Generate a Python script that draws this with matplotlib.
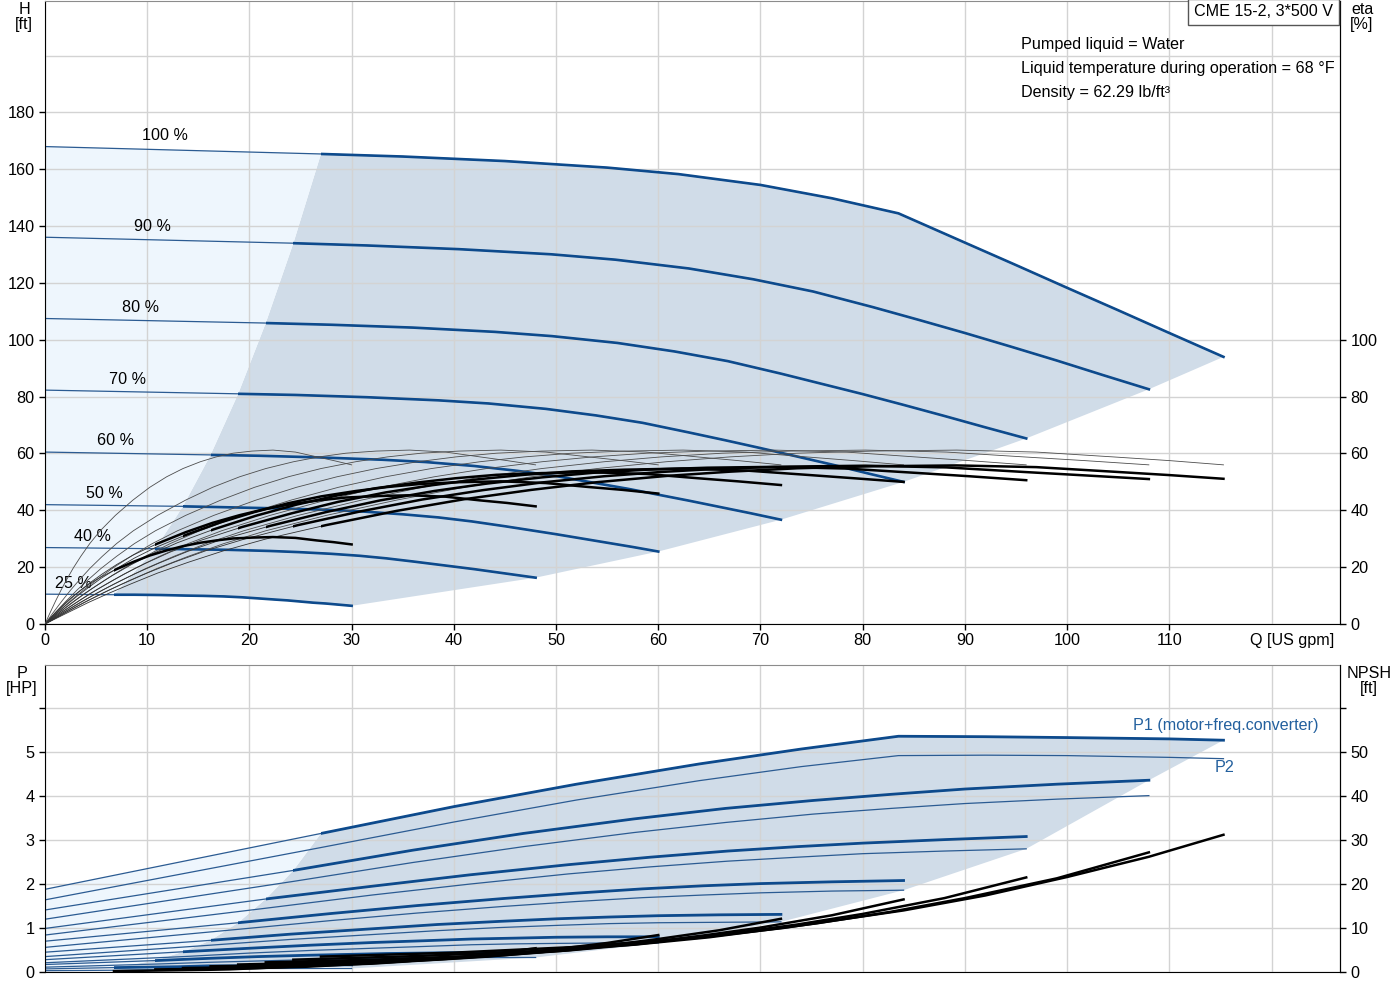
import matplotlib
matplotlib.use('Agg')
import matplotlib.pyplot as plt
from matplotlib.patches import Rectangle

plt.rcParams['font.family'] = ['Liberation Sans', 'DejaVu Sans']
plt.rcParams['font.size'] = 11.6

# ---- data ----
speed_labels = ['100 %', '90 %', '80 %', '70 %', '60 %', '50 %', '40 %', '25 %']
q_min = [27.0, 24.3, 21.6, 18.9, 16.2, 13.5, 10.8, 6.75]     # US gpm, start of operating range
q_max = [115.3, 108.0, 96.0, 84.0, 72.0, 60.0, 48.0, 30.0]

# head curves H [ft]
head_q = [
    [0, 27, 35, 45, 55, 62, 70, 77, 83.5, 90, 95, 100, 105, 110, 115.3],
    [0, 24.3, 31.5, 40.5, 49.5, 55.8, 63, 69.3, 75.15, 81, 85.5, 90, 94.5, 99, 103.5, 108],
    [0, 21.6, 28, 36, 44, 49.6, 56, 61.6, 66.8, 72, 76, 80, 84, 88, 92, 96],
    [0, 18.9, 24.5, 31.5, 38.5, 43.4, 49, 53.9, 58.45, 63, 66.5, 70, 73.5, 77, 80.5, 84],
    [0, 16.2, 21, 27, 33, 37.2, 42, 46.2, 50.1, 54, 57, 60, 63, 66, 69, 72],
    [0, 13.5, 17.5, 22.5, 27.5, 31, 35, 38.5, 41.75, 45, 47.5, 50, 52.5, 55, 57.5, 60],
    [0, 10.8, 14, 18, 22, 24.8, 28, 30.8, 33.4, 36, 38, 40, 42, 44, 46, 48],
    [0, 6.75, 8.75, 11.25, 13.75, 15.5, 17.5, 19.25, 20.9, 22.5, 23.75, 25, 26.25, 27.5, 28.75, 30],
]
head_ft = [
    [168, 165.4, 164.5, 162.9, 160.6, 158.3, 154.5, 149.8, 144.5, 134.2, 126.3, 118.3, 110.4, 102.4, 94.0],
    [136.1, 134.0, 133.2, 131.9, 130.1, 128.2, 125.1, 121.3, 117.0, 111.5, 107.0, 102.4, 97.6, 92.7, 87.6, 82.6],
    [107.5, 105.9, 105.3, 104.3, 102.8, 101.3, 98.9, 95.9, 92.5, 88.1, 84.5, 80.9, 77.1, 73.2, 69.2, 65.3],
    [82.3, 81.0, 80.6, 79.8, 78.7, 77.6, 75.7, 73.4, 70.8, 67.4, 64.7, 61.9, 59.0, 56.1, 53.0, 50.0],
    [60.5, 59.5, 59.2, 58.6, 57.8, 57.0, 55.6, 53.9, 52.0, 49.5, 47.6, 45.5, 43.4, 41.2, 39.0, 36.7],
    [42.0, 41.4, 41.1, 40.7, 40.2, 39.6, 38.6, 37.5, 36.1, 34.4, 33.0, 31.6, 30.1, 28.6, 27.1, 25.5],
    [26.9, 26.5, 26.3, 26.1, 25.7, 25.3, 24.7, 24.0, 23.1, 22.0, 21.1, 20.2, 19.3, 18.3, 17.3, 16.3],
    [10.5, 10.3, 10.3, 10.2, 10.0, 9.9, 9.7, 9.4, 9.0, 8.6, 8.3, 7.9, 7.5, 7.2, 6.8, 6.4],
]

# efficiency curves eta [%]
eta_q = [
    [0, 2, 4.2, 6.3, 8.4, 11, 14, 17.5, 21.6, 27.5, 34.4, 41, 47.6, 54, 60.8, 67, 73.6, 81, 89.2, 97, 104.5, 110, 115.3],
    [0, 1.8, 3.78, 5.67, 7.56, 9.9, 12.6, 15.75, 19.44, 24.75, 30.96, 36.9, 42.84, 48.6, 54.72, 60.3, 66.24, 72.9, 80.28, 88.2, 95.76, 101.7, 108],
    [0, 1.6, 3.36, 5.04, 6.72, 8.8, 11.2, 14, 17.28, 22, 27.52, 32.8, 38.08, 43.2, 48.64, 53.6, 58.88, 64.8, 71.36, 78.4, 85.12, 90.4, 96],
    [0, 1.4, 2.94, 4.41, 5.88, 7.7, 9.8, 12.25, 15.12, 19.25, 24.08, 28.7, 33.32, 37.8, 42.56, 46.9, 51.52, 56.7, 62.44, 68.6, 74.48, 79.1, 84],
    [0, 1.2, 2.52, 3.78, 5.04, 6.6, 8.4, 10.5, 12.96, 16.5, 20.64, 24.6, 28.56, 32.4, 36.48, 40.2, 44.16, 48.6, 53.52, 58.8, 63.84, 67.8, 72],
    [0, 1.0, 2.1, 3.15, 4.2, 5.5, 7.0, 8.75, 10.8, 13.75, 17.2, 20.5, 23.8, 27.0, 30.4, 33.5, 36.8, 40.5, 44.6, 49.0, 53.2, 56.5, 60],
    [0, 0.8, 1.68, 2.52, 3.36, 4.4, 5.6, 7.0, 8.64, 11.0, 13.76, 16.4, 19.04, 21.6, 24.32, 26.8, 29.44, 32.4, 35.68, 39.2, 42.56, 45.2, 48],
    [0, 0.5, 1.05, 1.58, 2.1, 2.75, 3.5, 4.38, 5.4, 6.88, 8.6, 10.25, 11.9, 13.5, 15.2, 16.75, 18.4, 20.25, 22.3, 24.5, 26.6, 28.25, 30],
]
eta_pump = [0, 4.0, 8.2, 12.0, 15.5, 19.6, 23.8, 28.3, 32.8, 38.2, 43.6, 48.1, 51.8, 54.7,
            57.1, 58.8, 60.1, 60.85, 61.2, 60.5, 58.8, 57.5, 56.0]
eta_total = [
    [0, 3.6, 7.5, 10.9, 14.1, 17.9, 21.7, 25.8, 29.9, 34.8, 39.8, 43.9, 47.2, 49.9, 52.1, 53.6, 54.8, 55.5, 55.8, 55.2, 53.6, 52.4, 51.1],
    [0, 3.6, 7.5, 10.9, 14.1, 17.8, 21.7, 25.8, 29.8, 34.8, 39.7, 43.8, 47.1, 49.8, 52.0, 53.5, 54.7, 55.4, 55.7, 55.1, 53.5, 52.3, 51.0],
    [0, 3.6, 7.4, 10.8, 14.0, 17.7, 21.5, 25.6, 29.7, 34.5, 39.4, 43.5, 46.8, 49.4, 51.6, 53.2, 54.3, 55.0, 55.3, 54.7, 53.2, 52.0, 50.6],
    [0, 3.6, 7.3, 10.7, 13.8, 17.5, 21.3, 25.3, 29.3, 34.1, 38.9, 43.0, 46.3, 48.8, 51.0, 52.5, 53.7, 54.3, 54.7, 54.0, 52.5, 51.3, 50.0],
    [0, 3.5, 7.2, 10.5, 13.5, 17.1, 20.8, 24.7, 28.6, 33.3, 38.1, 42.0, 45.2, 47.8, 49.8, 51.3, 52.5, 53.1, 53.4, 52.8, 51.3, 50.2, 48.9],
    [0, 3.3, 6.7, 9.8, 12.7, 16.1, 19.5, 23.2, 26.9, 31.3, 35.8, 39.4, 42.5, 44.9, 46.8, 48.2, 49.3, 49.9, 50.2, 49.6, 48.2, 47.2, 45.9],
    [0, 3.0, 6.1, 8.9, 11.5, 14.5, 17.6, 20.9, 24.3, 28.3, 32.3, 35.6, 38.3, 40.5, 42.3, 43.5, 44.5, 45.0, 45.3, 44.8, 43.5, 42.6, 41.4],
    [0, 2.0, 4.1, 6.0, 7.8, 9.8, 11.9, 14.2, 16.4, 19.1, 21.8, 24.1, 25.9, 27.4, 28.6, 29.4, 30.1, 30.4, 30.6, 30.3, 29.4, 28.8, 28.0],
]

# power curves P [HP]
power_q = [
    [0, 27, 40, 52, 64, 74, 83.5, 92, 100, 110, 115.3],
    [0, 24.3, 36, 46.8, 57.6, 66.6, 75.15, 82.8, 90, 99, 108],
    [0, 21.6, 32, 41.6, 51.2, 59.2, 66.8, 73.6, 80, 88, 96],
    [0, 18.9, 28, 36.4, 44.8, 51.8, 58.45, 64.4, 70, 77, 84],
    [0, 16.2, 24, 31.2, 38.4, 44.4, 50.1, 55.2, 60, 66, 72],
    [0, 13.5, 20, 26, 32, 37, 41.75, 46, 50, 55, 60],
    [0, 10.8, 16, 20.8, 25.6, 29.6, 33.4, 36.8, 40, 44, 48],
    [0, 6.75, 10, 13, 16, 18.5, 20.9, 23, 25, 27.5, 30],
]
p1_hp = [
    [1.88, 3.15, 3.76, 4.27, 4.73, 5.07, 5.36, 5.35, 5.33, 5.30, 5.27],
    [1.41, 2.31, 2.77, 3.15, 3.48, 3.72, 3.90, 4.04, 4.16, 4.27, 4.36],
    [0.99, 1.66, 1.95, 2.21, 2.44, 2.61, 2.75, 2.85, 2.93, 3.01, 3.08],
    [0.70, 1.12, 1.33, 1.51, 1.67, 1.79, 1.89, 1.96, 2.01, 2.05, 2.08],
    [0.45, 0.72, 0.86, 0.97, 1.08, 1.15, 1.21, 1.25, 1.28, 1.30, 1.31],
    [0.28, 0.46, 0.54, 0.61, 0.67, 0.71, 0.75, 0.77, 0.79, 0.80, 0.80],
    [0.17, 0.26, 0.31, 0.35, 0.38, 0.40, 0.42, 0.43, 0.44, 0.45, 0.45],
    [0.07, 0.10, 0.11, 0.12, 0.14, 0.14, 0.15, 0.16, 0.16, 0.16, 0.16],
]
p2_hp = [
    [1.64, 2.83, 3.41, 3.91, 4.35, 4.67, 4.92, 4.93, 4.92, 4.88, 4.85],
    [1.20, 2.06, 2.49, 2.85, 3.17, 3.40, 3.59, 3.72, 3.83, 3.93, 4.01],
    [0.84, 1.45, 1.75, 2.00, 2.23, 2.39, 2.52, 2.61, 2.69, 2.75, 2.80],
    [0.56, 0.97, 1.17, 1.34, 1.49, 1.60, 1.69, 1.75, 1.80, 1.84, 1.86],
    [0.35, 0.61, 0.74, 0.84, 0.94, 1.01, 1.06, 1.10, 1.12, 1.13, 1.14],
    [0.21, 0.35, 0.43, 0.49, 0.54, 0.58, 0.62, 0.64, 0.65, 0.66, 0.66],
    [0.11, 0.18, 0.22, 0.25, 0.28, 0.30, 0.32, 0.33, 0.33, 0.33, 0.33],
    [0.03, 0.04, 0.05, 0.06, 0.07, 0.07, 0.08, 0.08, 0.08, 0.08, 0.08],
]
# lower edge of the power operating area
p_edge_q = [115.3, 108, 96, 84, 72, 60, 48, 30]
p_edge_hp = [5.27, 4.36, 2.80, 1.86, 1.14, 0.66, 0.33, 0.08]

# NPSH curves [ft]
npsh_q = [
    [27, 40, 52, 64, 72.2, 84, 92, 100, 108, 115.3],
    [24.3, 36, 46.8, 57.6, 65, 75.6, 82.8, 90, 99, 108],
    [21.6, 32, 41.6, 51.2, 57.8, 67.2, 73.6, 80, 88, 96],
    [18.9, 28, 36.4, 44.8, 50.5, 58.8, 64.4, 70, 77, 84],
    [16.2, 24, 31.2, 38.4, 43.3, 50.4, 55.2, 60, 66, 72],
    [13.5, 20, 26, 32, 36.1, 42, 46, 50, 55, 60],
    [10.8, 16, 20.8, 25.6, 28.9, 33.6, 36.8, 40, 44, 48],
    [6.75, 10, 13, 16, 18, 21, 23, 25, 27.5, 30],
]
npsh_ft = [
    [3.5, 4.4, 5.7, 7.8, 10.0, 14.0, 17.4, 21.6, 26.2, 31.2],
    [2.8, 3.6, 4.6, 6.2, 7.9, 11.1, 13.7, 16.8, 21.3, 27.2],
    [2.2, 2.8, 3.6, 4.9, 6.3, 8.8, 10.8, 13.2, 16.8, 21.5],
    [1.7, 2.2, 2.8, 3.8, 4.8, 6.7, 8.3, 10.1, 12.9, 16.5],
    [1.3, 1.6, 2.1, 2.8, 3.5, 4.9, 6.1, 7.5, 9.5, 12.1],
    [0.9, 1.1, 1.4, 1.9, 2.5, 3.4, 4.2, 5.2, 6.6, 8.4],
    [0.6, 0.7, 0.9, 1.2, 1.6, 2.2, 2.7, 3.3, 4.2, 5.4],
    [0.2, 0.3, 0.4, 0.5, 0.6, 0.9, 1.1, 1.3, 1.6, 2.1],
]

# label x positions for the speed texts (layout only)
label_q = [11.7, 10.5, 9.3, 8.1, 6.9, 5.8, 4.6, 2.8]

BLUE = '#0d4a8c'
THIN_BLUE = '#2b5b92'
DARK_FILL = '#d0dce8'
LIGHT_FILL = '#eef6fd'
GRID = '#d3d3d3'


def thick_part(ax, q, v, qa, qb, **kw):
    line, = ax.plot(q, v, **kw)
    clip = Rectangle((qa, -1000), qb - qa + 2, 3000, transform=ax.transData)
    line.set_clip_path(clip)
    return line


def style_axes(ax):
    ax.set_axisbelow(True)
    ax.grid(True, color=GRID, lw=1)
    ax.spines['top'].set_color('#8c8c8c')
    for s in ['left', 'bottom', 'right']:
        ax.spines[s].set_color('black')
    ax.tick_params(direction='out', length=4, width=1, colors='black', labelsize=11.7)


def style_twin(ax):
    ax.tick_params(direction='out', length=4, width=1, colors='black', labelsize=11.7, pad=3.5)
    for s in ['left', 'bottom', 'top']:
        ax.spines[s].set_visible(False)
    ax.spines['right'].set_color('black')


fig = plt.figure(figsize=(14, 10), dpi=100)
ax_h = fig.add_axes([45 / 1400, 0.376, 1295 / 1400, 0.6235])
ax_p = fig.add_axes([45 / 1400, 0.028, 1295 / 1400, 0.307])

# ---------------- top panel: head and efficiency ----------------
style_axes(ax_h)
ax_h.set_xlim(0, 126.7)
ax_h.set_ylim(0, 219.4)
ax_h.set_xticks(range(0, 111, 10))
ax_h.set_yticks(range(0, 181, 20))
ax_h.axhline(200, color=GRID, lw=1, zorder=0.5)
ax_h.axvline(120, color=GRID, lw=1, zorder=0.5)
ax_h.tick_params(axis='x', pad=2.5)
ax_h.tick_params(axis='y', pad=3.5)

# operating areas
top_pts = [(q, h) for q, h in zip(head_q[0], head_ft[0]) if q >= q_min[0]]
edge_pts = [(hq[-1], hh[-1]) for hq, hh in zip(head_q[1:], head_ft[1:])]
low_pts = [(q, h) for q, h in zip(head_q[-1], head_ft[-1]) if q >= q_min[-1]][::-1]
left_pts = [(q_min[k], head_ft[k][1]) for k in range(len(q_min) - 2, 0, -1)]
dark = top_pts + edge_pts + low_pts + left_pts
ax_h.fill([p[0] for p in dark], [p[1] for p in dark], color=DARK_FILL, lw=0, zorder=0.3)

light = ([(q, h) for q, h in zip(head_q[0], head_ft[0]) if q <= q_min[0]]
         + [(q_min[k], head_ft[k][1]) for k in range(1, len(q_min))]
         + [(q, h) for q, h in zip(head_q[-1], head_ft[-1]) if q <= q_min[-1]][::-1])
ax_h.fill([p[0] for p in light], [p[1] for p in light], color=LIGHT_FILL, lw=0, zorder=0.3)

for k in range(len(speed_labels)):
    ax_h.plot(head_q[k], head_ft[k], color=THIN_BLUE, lw=0.9, zorder=2)
    thick_part(ax_h, head_q[k], head_ft[k], q_min[k], q_max[k], color=BLUE, lw=1.9, zorder=2.1)
    ax_h.annotate(speed_labels[k], xy=(label_q[k], head_ft[k][0]), xytext=(0, 8),
                  textcoords='offset points', ha='center', va='center')

ax_eta = ax_h.twinx()
ax_eta.set_ylim(ax_h.get_ylim())
ax_eta.set_yticks(range(0, 101, 20))
style_twin(ax_eta)

for k in range(len(speed_labels)):
    ax_eta.plot(eta_q[k], eta_pump, color='#4d4d4d', lw=0.6, zorder=2)
    ax_eta.plot(eta_q[k], eta_total[k], color='#333333', lw=0.6, zorder=2)
    thick_part(ax_eta, eta_q[k], eta_total[k], q_min[k], q_max[k], color='black', lw=1.8, zorder=2.2)

ax_h.annotate('Q [US gpm]', xy=(122, 0), xycoords=('data', 'axes fraction'),
              xytext=(0, -6.5), textcoords='offset points', ha='center', va='top')

# ---------------- bottom panel: power and NPSH ----------------
style_axes(ax_p)
ax_p.set_xlim(0, 126.7)
ax_p.set_ylim(0, 6.98)
ax_p.set_xticks(range(0, 121, 10))
ax_p.tick_params(axis='x', length=0, labelbottom=False)
ax_p.set_yticks(range(0, 7))
ax_p.set_yticklabels([str(v) for v in range(0, 6)] + [''])
ax_p.tick_params(axis='y', pad=3.5)

ptop = [(q, p) for q, p in zip(power_q[0], p1_hp[0]) if q >= q_min[0]]
pedge = list(zip(p_edge_q[1:], p_edge_hp[1:]))
plow = [(q, p) for q, p in zip(power_q[-1], p1_hp[-1]) if q >= q_min[-1]][::-1]
pleft = [(q_min[k], p1_hp[k][1]) for k in range(len(q_min) - 2, 0, -1)]
pdark = ptop + pedge + plow + pleft
ax_p.fill([p[0] for p in pdark], [p[1] for p in pdark], color=DARK_FILL, lw=0, zorder=0.3)

plight = ([(q, p) for q, p in zip(power_q[0], p1_hp[0]) if q <= q_min[0]]
          + [(q_min[k], p1_hp[k][1]) for k in range(1, len(q_min))]
          + [(q, p) for q, p in zip(power_q[-1], p1_hp[-1]) if q <= q_min[-1]][::-1])
ax_p.fill([p[0] for p in plight], [p[1] for p in plight], color=LIGHT_FILL, lw=0, zorder=0.3)

for k in range(len(speed_labels)):
    ax_p.plot(power_q[k], p2_hp[k], color=THIN_BLUE, lw=0.9, zorder=2)
    ax_p.plot(power_q[k], p1_hp[k], color=THIN_BLUE, lw=0.9, zorder=2)
    thick_part(ax_p, power_q[k], p1_hp[k], q_min[k], q_max[k], color=BLUE, lw=2.0, zorder=2.1)

ax_npsh = ax_p.twinx()
ax_npsh.set_ylim(0, 69.8)
ax_npsh.set_yticks(range(0, 61, 10))
ax_npsh.set_yticklabels([str(v) for v in range(0, 51, 10)] + [''])
style_twin(ax_npsh)

for k in range(len(speed_labels)):
    ax_npsh.plot(npsh_q[k], npsh_ft[k], color='black', lw=1.8, zorder=2)

ax_p.text(106.4, 5.61, 'P1 (motor+freq.converter)', color='#23609e', ha='left', va='center')
ax_p.text(114.4, 4.66, 'P2', color='#23609e', ha='left', va='center')

# ---------------- texts around the panels ----------------
fig.text(24 / 1400, 1 - 16.5 / 1000, 'H\n[ft]', ha='center', va='center', linespacing=1.0)
fig.text(1362 / 1400, 1 - 16.5 / 1000, 'eta\n[%]', ha='center', va='center', linespacing=1.0)
fig.text(22 / 1400, 1 - 681 / 1000, 'P\n[HP]', ha='center', va='center', linespacing=1.0)
fig.text(1369 / 1400, 1 - 681 / 1000, 'NPSH\n[ft]', ha='center', va='center', linespacing=1.0)

fig.text(1333 / 1400, 1 - 12 / 1000, 'CME 15-2, 3*500 V', ha='right', va='center',
         bbox=dict(boxstyle='square,pad=0.35', fc='white', ec='#555555', lw=1))
fig.text(1021 / 1400, 1 - 44 / 1000, 'Pumped liquid = Water', ha='left', va='center')
fig.text(1021 / 1400, 1 - 68 / 1000, 'Liquid temperature during operation = 68 °F', ha='left', va='center')
fig.text(1021 / 1400, 1 - 92 / 1000, 'Density = 62.29 lb/ft³', ha='left', va='center')

fig.savefig('out.png', dpi=100)
